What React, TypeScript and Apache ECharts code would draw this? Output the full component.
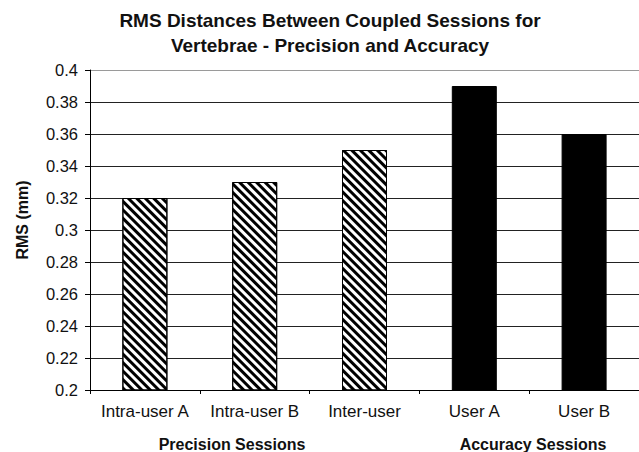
import React, { useEffect, useRef } from "react";
import * as echarts from "echarts";

const categories = ["Intra-user A", "Intra-user B", "Inter-user", "User A", "User B"];
const rmsValues = [0.32, 0.33, 0.35, 0.39, 0.36];
const sessionType = ["precision", "precision", "precision", "accuracy", "accuracy"];
const groupLabels = ["Precision Sessions", "Accuracy Sessions"];
const titleLines = ["RMS Distances Between Coupled Sessions for", "Vertebrae - Precision and Accuracy"];
const yAxisTitle = "RMS (mm)";

const FONT = "'Liberation Sans', Arial, sans-serif";

export default function App() {
  const ref = useRef<HTMLDivElement>(null);
  useEffect(() => {
    if (!ref.current) return;
    const chart = echarts.init(ref.current, null, { renderer: "svg" });
    const hatch = {
      symbol: "rect",
      symbolSize: 1,
      dashArrayX: [1, 0],
      dashArrayY: [3, 3],
      rotation: Math.PI / 4,
      color: "#000",
      backgroundColor: "#fff",
    };
    const data = rmsValues.map((v, i) => ({
      value: v,
      itemStyle:
        sessionType[i] === "precision"
          ? { color: "#fff", borderColor: "#000", borderWidth: 1, decal: hatch }
          : { color: "#000", borderColor: "#000", borderWidth: 1 },
    }));
    const gridColors = Array.from({ length: 11 }, (_, i) => (i === 10 ? "#9a9a9a" : "#222"));
    chart.setOption({
      animation: false,
      backgroundColor: "#fff",
      title: {
        text: titleLines.join("\n"),
        left: 325,
        top: 3,
        textAlign: "center",
        textStyle: { fontFamily: FONT, fontSize: 19, fontWeight: "bold", color: "#111", lineHeight: 25 },
      },
      grid: { left: 90, right: 0, top: 70, bottom: 62 },
      xAxis: {
        type: "category",
        data: categories,
        boundaryGap: true,
        axisLine: { lineStyle: { color: "#000", width: 1 } },
        axisTick: { show: true, interval: 0, length: 4, lineStyle: { color: "#000" } },
        axisLabel: { interval: 0, fontFamily: FONT, fontSize: 17, color: "#111", margin: 13 },
      },
      yAxis: {
        type: "value",
        min: 0.2,
        max: 0.4,
        interval: 0.02,
        axisLine: { show: true, lineStyle: { color: "#000", width: 1 } },
        axisTick: { show: true, length: 5, lineStyle: { color: "#000" } },
        axisLabel: {
          fontFamily: FONT,
          fontSize: 16.5,
          color: "#111",
          margin: 12,
          formatter: (v: number) => String(parseFloat(v.toFixed(2))),
        },
        splitLine: { show: true, lineStyle: { color: gridColors, width: 1 } },
      },
      graphic: [
        {
          type: "text",
          x: 22,
          y: 220,
          rotation: Math.PI / 2,
          style: {
            text: yAxisTitle,
            fontFamily: FONT,
            fontSize: 16,
            fontWeight: "bold",
            fill: "#111",
            align: "center",
            verticalAlign: "middle",
          },
        },
        {
          type: "text",
          x: 232,
          y: 444,
          style: {
            text: groupLabels[0],
            fontFamily: FONT,
            fontSize: 16,
            fontWeight: "bold",
            fill: "#111",
            align: "center",
            verticalAlign: "middle",
          },
        },
        {
          type: "text",
          x: 533,
          y: 444,
          style: {
            text: groupLabels[1],
            fontFamily: FONT,
            fontSize: 16,
            fontWeight: "bold",
            fill: "#111",
            align: "center",
            verticalAlign: "middle",
          },
        },
      ],
      series: [
        {
          type: "bar",
          data,
          barWidth: 45,
          itemStyle: { borderColor: "#000", borderWidth: 1 },
        },
      ],
    });
    return () => chart.dispose();
  }, []);
  return <div ref={ref} style={{ width: 639, height: 452, position: "absolute", left: 0, top: 0 }} />;
}
